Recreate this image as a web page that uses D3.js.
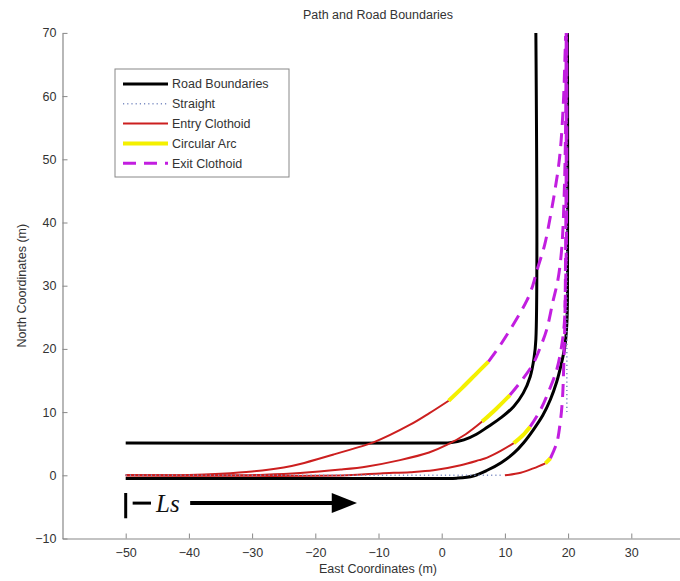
<!DOCTYPE html>
<html>
<head>
<meta charset="utf-8">
<script src="https://cdn.jsdelivr.net/npm/d3@7"></script>
<style>
  body { margin: 0; background: #fff; }
  svg { display: block; font-family: "Liberation Sans", Arial, sans-serif; }
</style>
</head>
<body>
<div id="container"></div>
<script>
/**
 * DATA (east / north in metres)
 * */
const xTicks = [-50, -40, -30, -20, -10, 0, 10, 20, 30];
const yTicks = [-10, 0, 10, 20, 30, 40, 50, 60, 70];

const roadOuter = [[-50, -0.5], [0, -0.5], [2.4, -0.45], [5, -0.1], [7.2, 0.8], [9.4, 2], [11.4, 3.5],
  [13, 5.2], [14.5, 7.2], [16, 9.5], [17.2, 12], [18.2, 14.8], [18.9, 17.5], [19.5, 20.5],
  [19.8, 24], [19.9, 28], [19.9, 70]];
const roadInner = [[-50, 5.1], [0, 5.1], [1.3, 5.15], [3.5, 5.6], [5.5, 6.5], [7.2, 7.6], [9.5, 9.2],
  [11.4, 10.9], [12.9, 13], [14, 15.6], [14.6, 18.5], [14.9, 21.5], [14.9, 70]];

const straightH = [[-50, 0], [9.5, 0]];
const straightV = [[19.8, 10], [19.8, 70]];

// path A
const entryA = [[-50, 0], [-40, 0.05], [-35, 0.25], [-30, 0.6], [-25, 1.25], [-22.4, 1.8], [-17.1, 3.3],
  [-13, 4.5], [-10.8, 5.2], [-5, 8], [-2, 9.8], [1.1, 11.8]];
const arcA = [[1.1, 11.8], [3.2, 13.8], [5.3, 15.9], [7.4, 18]];
const exitA = [[7.4, 18], [9.2, 20.5], [10.8, 23], [12.3, 25.5], [13.5, 27.7], [14.4, 30], [15.1, 32.5],
  [16.3, 36.5], [17.2, 41], [17.9, 45], [18.5, 49], [18.9, 53], [19.3, 60], [19.5, 66], [19.6, 69.5]];
// path B
const entryB = [[-50, 0], [-35, 0], [-28, 0.1], [-22.4, 0.35], [-16, 0.9], [-11.8, 1.4], [-6.6, 2.4],
  [-2, 3.6], [0.8, 4.8], [3.8, 6.5], [6.4, 8.5]];
const arcB = [[6.4, 8.5], [8.6, 10.5], [10.8, 12.7]];
const exitB = [[10.8, 12.7], [12.8, 15.2], [14.5, 17.7], [15.7, 20.5], [16.6, 23], [17.6, 27.5],
  [18.4, 31], [19, 36], [19.4, 45], [19.6, 55], [19.7, 70]];
// path C
const entryC = [[-50, 0], [-15, 0], [-9.7, 0.3], [-5, 0.5], [-1.3, 0.8], [3, 1.6], [5.9, 2.4],
  [7.2, 2.8], [9.4, 3.9], [11.4, 5.1]];
const arcC = [[11.4, 5.1], [12.8, 6.3], [14, 7.7]];
const exitC = [[14, 7.7], [15.6, 10.3], [16.9, 13.2], [18.2, 16.7], [18.9, 20], [19.4, 24],
  [19.6, 30], [19.75, 40], [19.8, 70]];
// path D
const entryD = [[10, 0], [12.5, 0.4], [14.5, 1.1], [16.4, 1.9]];
const arcD = [[16.4, 1.9], [17.2, 2.7]];
const exitD = [[17.2, 2.7], [18.2, 5.1], [18.75, 8.3], [19.1, 12], [19.3, 17], [19.5, 25],
  [19.6, 35], [19.7, 50], [19.7, 70]];

const legendLabels = ["Road Boundaries", "Straight", "Entry Clothoid", "Circular Arc", "Exit Clothoid"];

/**
 * CONSTANTS
 * */
const width = 680, height = 581;
const styles = {
  road:     { stroke: "#000000", width: 3,   dash: null },
  straight: { stroke: "#7f8fc4", width: 1.6, dash: "1.2,3" },
  entry:    { stroke: "#cc1f1f", width: 2,   dash: null },
  arc:      { stroke: "#f4f000", width: 4,   dash: null },
  exit:     { stroke: "#c21ee0", width: 3,   dash: "13,8" }
};

const svg = d3.select("#container")
  .append("svg")
  .attr("width", width)
  .attr("height", height);

const x = d3.scaleLinear().domain([-60, 40]).range([62.5, 694.5]);
const y = d3.scaleLinear().domain([-10, 70]).range([538.5, 32.9]);

const line = d3.line()
  .x(d => x(d[0]))
  .y(d => y(d[1]))
  .curve(d3.curveCatmullRom.alpha(0.5));

/**
 * AXES
 * */
const xAxis = svg.append("g")
  .attr("transform", `translate(0,${y(-10)})`)
  .call(d3.axisBottom(x).tickValues(xTicks).tickSizeInner(-5).tickSizeOuter(0).tickPadding(10));
const yAxis = svg.append("g")
  .attr("transform", `translate(${x(-60)},0)`)
  .call(d3.axisLeft(y).tickValues(yTicks).tickSizeInner(-5).tickSizeOuter(0).tickPadding(6));

[xAxis, yAxis].forEach(g => {
  g.select(".domain").attr("stroke", "#888").attr("stroke-width", 1.2);
  g.selectAll(".tick line").attr("stroke", "#888");
  g.selectAll(".tick text").attr("fill", "#333").style("font-size", "12.5px")
    .style("font-family", "'Liberation Sans', Arial, sans-serif");
});

svg.append("text")
  .attr("x", 378).attr("y", 19)
  .attr("text-anchor", "middle")
  .attr("fill", "#333").style("font-size", "12.5px")
  .text("Path and Road Boundaries");

svg.append("text")
  .attr("x", 378).attr("y", 573)
  .attr("text-anchor", "middle")
  .attr("fill", "#333").style("font-size", "12.5px")
  .text("East Coordinates (m)");

svg.append("text")
  .attr("transform", `translate(22,${(y(-10) + y(70)) / 2}) rotate(-90)`)
  .attr("text-anchor", "middle")
  .attr("dy", "0.35em")
  .attr("fill", "#333").style("font-size", "12.5px")
  .text("North Coordinates (m)");

/**
 * LINES
 * */
function drawLine(pts, s) {
  svg.append("path")
    .datum(pts)
    .attr("d", line)
    .attr("fill", "none")
    .attr("stroke", s.stroke)
    .attr("stroke-width", s.width)
    .attr("stroke-dasharray", s.dash)
    .attr("stroke-linejoin", "round");
}

drawLine(roadOuter, styles.road);
drawLine(roadInner, styles.road);

[entryA, entryB, entryC, entryD].forEach(p => drawLine(p, styles.entry));
drawLine(straightH, styles.straight);
drawLine(straightV, styles.straight);
[arcA, arcB, arcC, arcD].forEach(p => drawLine(p, styles.arc));
[exitA, exitB, exitC, exitD].forEach(p => drawLine(p, styles.exit));

/**
 * Ls ANNOTATION
 * */
const lsY = -4.4;
svg.append("line")
  .attr("x1", x(-50)).attr("x2", x(-50))
  .attr("y1", y(-2.8)).attr("y2", y(-6.8))
  .attr("stroke", "#000").attr("stroke-width", 3);
svg.append("line")
  .attr("x1", x(-48.9)).attr("x2", x(-46))
  .attr("y1", y(lsY)).attr("y2", y(lsY))
  .attr("stroke", "#000").attr("stroke-width", 3);
svg.append("text")
  .attr("x", x(-45.2)).attr("y", y(lsY) + 9)
  .style("font-family", "'Liberation Serif', 'Times New Roman', serif")
  .style("font-style", "italic")
  .style("font-size", "25px")
  .attr("fill", "#111")
  .text("Ls");
svg.append("line")
  .attr("x1", x(-39.8)).attr("x2", x(-17))
  .attr("y1", y(lsY)).attr("y2", y(lsY))
  .attr("stroke", "#000").attr("stroke-width", 4);
svg.append("path")
  .attr("d", `M${x(-17.4)},${y(lsY) - 10}L${x(-13.4)},${y(lsY)}L${x(-17.4)},${y(lsY) + 10}Z`)
  .attr("fill", "#000");

/**
 * LEGEND
 * */
const legend = svg.append("g").attr("transform", "translate(115,69)");
legend.append("rect")
  .attr("width", 174).attr("height", 108)
  .attr("fill", "#fff").attr("stroke", "#888").attr("stroke-width", 1);

const legendStyles = [styles.road, styles.straight, styles.entry, styles.arc, styles.exit];
const rows = legend.selectAll("g.row")
  .data(legendLabels)
  .join("g")
  .attr("class", "row")
  .attr("transform", (d, i) => `translate(0,${15 + i * 19.8})`);

rows.append("line")
  .attr("x1", 8).attr("x2", 53)
  .attr("stroke", (d, i) => legendStyles[i].stroke)
  .attr("stroke-width", (d, i) => legendStyles[i].width)
  .attr("stroke-dasharray", (d, i) => legendStyles[i].dash);

rows.append("text")
  .attr("x", 57)
  .attr("dy", "0.35em")
  .attr("fill", "#333")
  .style("font-size", "12.5px")
  .text(d => d);
</script>
</body>
</html>
